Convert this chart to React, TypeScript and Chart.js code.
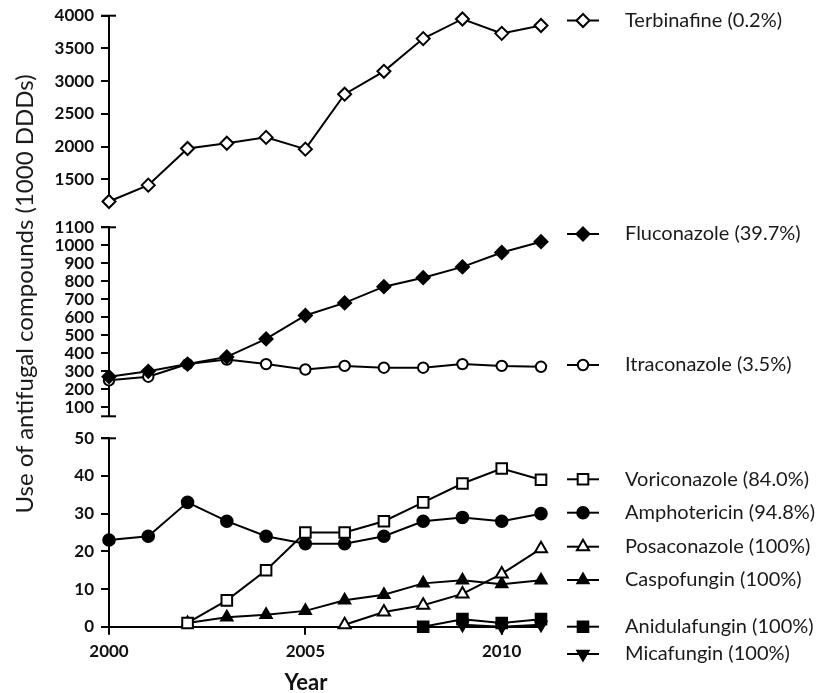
import React, { useEffect, useRef } from 'react';
import { Chart, registerables, PointElement } from 'chart.js';

Chart.register(...registerables);

// ---------- data ----------
const years = [2000, 2001, 2002, 2003, 2004, 2005, 2006, 2007, 2008, 2009, 2010, 2011];
const xTicks = [2000, 2005, 2010];
const topTicks = [1500, 2000, 2500, 3000, 3500, 4000];
const midTicks = [100, 200, 300, 400, 500, 600, 700, 800, 900, 1000, 1100];
const botTicks = [0, 10, 20, 30, 40, 50];

const terbinafine = [1160, 1410, 1970, 2050, 2140, 1960, 2800, 3150, 3650, 3950, 3730, 3850];
const fluconazole = [270, 300, 340, 380, 480, 610, 680, 770, 820, 880, 960, 1020];
const itraconazole = [250, 270, 340, 365, 340, 310, 330, 320, 320, 340, 330, 325];
const voriconazole = [null, null, 1, 7, 15, 25, 25, 28, 33, 38, 42, 39];
const amphotericin = [23, 24, 33, 28, 24, 22, 22, 24, 28, 29, 28, 30];
const posaconazole = [null, null, null, null, null, null, 0.5, 3.9, 5.7, 8.7, 14, 20.7];
const caspofungin = [null, null, 1, 2.5, 3.2, 4.2, 7, 8.5, 11.5, 12.3, 11.3, 12.3];
const anidulafungin = [null, null, null, null, null, null, null, null, 0, 2, 1, 2];
const micafungin = [null, null, null, null, null, null, null, null, null, 0.5, 0, 0.5];

const yTitle = 'Use of antifugal compounds (1000 DDDs)';
const xTitle = 'Year';

// ---------- styles / layout ----------
const FONT = 'Lato, "DejaVu Sans", sans-serif';
const W = 818;
const PLOT_LEFT = 109;
const PLOT_RIGHT = 541;

type Series = {
  label: string;
  data: (number | null)[];
  pointStyle: string;
  filled: boolean;
  radius: number;
  rotation?: number;
  legendY: number; // page px
};

const S_TERB: Series = { label: 'Terbinafine (0.2%)', data: terbinafine, pointStyle: 'rectRot', filled: false, radius: 6.5, legendY: 20.5 };
const S_FLUC: Series = { label: 'Fluconazole (39.7%)', data: fluconazole, pointStyle: 'rectRot', filled: true, radius: 6.5, legendY: 234 };
const S_ITRA: Series = { label: 'Itraconazole (3.5%)', data: itraconazole, pointStyle: 'circle', filled: false, radius: 5.2, legendY: 365 };
const S_VORI: Series = { label: 'Voriconazole (84.0%)', data: voriconazole, pointStyle: 'rect', filled: false, radius: 7.5, legendY: 479.3 };
const S_AMPH: Series = { label: 'Amphotericin (94.8%)', data: amphotericin, pointStyle: 'circle', filled: true, radius: 5.8, legendY: 512.7 };
const S_POSA: Series = { label: 'Posaconazole (100%)', data: posaconazole, pointStyle: 'triangle', filled: false, radius: 7, legendY: 546.7 };
const S_CASP: Series = { label: 'Caspofungin (100%)', data: caspofungin, pointStyle: 'triangle', filled: true, radius: 6.5, legendY: 580 };
const S_ANID: Series = { label: 'Anidulafungin (100%)', data: anidulafungin, pointStyle: 'rect', filled: true, radius: 7.5, legendY: 626.7 };
const S_MICA: Series = { label: 'Micafungin (100%)', data: micafungin, pointStyle: 'triangle', filled: true, radius: 6.5, rotation: 180, legendY: 654 };

type Panel = {
  top: number;
  height: number;
  padTop: number;
  padBottom: number;
  min: number;
  max: number;
  ticks: number[];
  showX: boolean;
  xHeight: number;
  caps: ('top' | 'bottom')[];
  series: Series[];
};

const panels: Panel[] = [
  { top: 0, height: 214, padTop: 15.7, padBottom: 12.5, min: 1160, max: 4000, ticks: topTicks, showX: false, xHeight: 0, caps: ['top'], series: [S_TERB] },
  { top: 214, height: 212, padTop: 13.3, padBottom: 9.7, min: 50, max: 1100, ticks: midTicks, showX: false, xHeight: 0, caps: ['top', 'bottom'], series: [S_FLUC, S_ITRA] },
  { top: 426, height: 267, padTop: 12.3, padBottom: 0, min: 0, max: 50, ticks: botTicks, showX: true, xHeight: 66.3, caps: ['top'], series: [S_VORI, S_AMPH, S_POSA, S_CASP, S_ANID, S_MICA] },
];

const capsPlugin = {
  id: 'axisCaps',
  beforeDatasetsDraw(chart: any, _args: any, opts: any) {
    const y = chart.scales.y;
    const ctx = chart.ctx;
    ctx.save();
    ctx.strokeStyle = '#000';
    ctx.lineWidth = 2;
    (opts.caps || []).forEach((c: string) => {
      const py = c === 'top' ? y.top : y.bottom;
      ctx.beginPath();
      ctx.moveTo(y.right - 8, py);
      ctx.lineTo(y.right + 7, py);
      ctx.stroke();
    });
    ctx.restore();
  },
};

const legendPlugin = {
  id: 'sideLegend',
  afterDraw(chart: any, _args: any, opts: any) {
    const ctx = chart.ctx;
    const items: Series[] = opts.items || [];
    const offset: number = opts.offset || 0;
    ctx.save();
    items.forEach((s) => {
      const y = s.legendY - offset;
      ctx.strokeStyle = '#000';
      ctx.lineWidth = 2;
      ctx.beginPath();
      ctx.moveTo(567, y);
      ctx.lineTo(599, y);
      ctx.stroke();
      const pt: any = new PointElement({ x: 583, y } as any);
      pt.options = {
        pointStyle: s.pointStyle,
        rotation: s.rotation || 0,
        radius: s.radius,
        borderWidth: 2,
        borderColor: '#000',
        backgroundColor: s.filled ? '#000' : '#fff',
      };
      pt.draw(ctx);
      ctx.fillStyle = '#1a1a1a';
      ctx.font = `20px ${FONT}`;
      ctx.textAlign = 'left';
      ctx.textBaseline = 'middle';
      ctx.fillText(s.label, 625, y);
    });
    ctx.restore();
  },
};

function PanelChart({ p }: { p: Panel }) {
  const ref = useRef<HTMLCanvasElement | null>(null);
  useEffect(() => {
    if (!ref.current) return;
    const tickFont = { family: FONT, size: 17, weight: 'bold' as const, lineHeight: 1.2 };
    const chart = new Chart(ref.current, {
      type: 'line',
      data: {
        datasets: p.series.map((s) => ({
          label: s.label,
          data: years
            .map((x, i) => ({ x, y: s.data[i] }))
            .filter((d) => d.y !== null) as any,
          borderColor: '#000',
          borderWidth: 2,
          pointStyle: s.pointStyle as any,
          pointRadius: s.radius,
          pointHoverRadius: s.radius,
          pointBorderWidth: 2,
          pointBorderColor: '#000',
          pointBackgroundColor: s.filled ? '#000' : '#fff',
          pointRotation: s.rotation || 0,
          tension: 0,
          fill: false,
          clip: false as any,
        })),
      },
      options: {
        animation: false,
        responsive: false,
        maintainAspectRatio: false,
        events: [],
        layout: { padding: { left: 0, right: W - PLOT_RIGHT, top: p.padTop, bottom: p.padBottom } },
        plugins: {
          legend: { display: false },
          tooltip: { enabled: false },
          axisCaps: { caps: p.caps },
          sideLegend: { items: p.series, offset: p.top },
        } as any,
        scales: {
          x: {
            type: 'linear',
            min: 2000,
            max: 2011,
            display: p.showX,
            afterBuildTicks: (scale: any) => {
              scale.ticks = xTicks.map((v) => ({ value: v }));
            },
            afterFit: (scale: any) => {
              if (p.showX) scale.height = p.xHeight;
              scale.paddingLeft = 0;
              scale.paddingRight = 0;
            },
            grid: { display: true, drawOnChartArea: false, drawTicks: true, tickLength: 8, color: '#000', lineWidth: 2 },
            border: { display: true, color: '#000', width: 2 },
            ticks: {
              color: '#111',
              font: tickFont,
              padding: 6.8,
              maxRotation: 0,
              autoSkip: false,
              callback: (v: any) => String(v),
            },
          },
          y: {
            type: 'linear',
            min: p.min,
            max: p.max,
            afterBuildTicks: (scale: any) => {
              scale.ticks = p.ticks.map((v) => ({ value: v }));
            },
            afterFit: (scale: any) => {
              scale.width = PLOT_LEFT;
              scale.paddingTop = 0;
              scale.paddingBottom = 0;
            },
            grid: { display: true, drawOnChartArea: false, drawTicks: true, tickLength: 8, color: '#000', lineWidth: 2 },
            border: { display: true, color: '#000', width: 2 },
            ticks: {
              color: '#111',
              font: tickFont,
              padding: 7,
              autoSkip: false,
              callback: (v: any) => String(v),
            },
          },
        },
      },
      plugins: [capsPlugin, legendPlugin],
    });
    return () => chart.destroy();
  }, [p]);
  return (
    <canvas
      ref={ref}
      width={W}
      height={p.height}
      style={{ position: 'absolute', left: 0, top: p.top, width: W, height: p.height, display: 'block' }}
    />
  );
}

export default function App() {
  return (
    <div style={{ position: 'absolute', left: 0, top: 0, width: W, height: 693, background: '#fff', overflow: 'hidden' }}>
      {panels.map((p, i) => (
        <PanelChart key={i} p={p} />
      ))}
      <div
        style={{
          position: 'absolute',
          left: 24 - 300,
          top: 293.5 - 15,
          width: 600,
          height: 30,
          lineHeight: '30px',
          textAlign: 'center',
          transform: 'rotate(-90deg)',
          fontFamily: FONT,
          fontSize: 24,
          color: '#1a1a1a',
          whiteSpace: 'nowrap',
        }}
      >
        {yTitle}
      </div>
      <div
        style={{
          position: 'absolute',
          left: 306 - 100,
          top: 682 - 15,
          width: 200,
          height: 30,
          lineHeight: '30px',
          textAlign: 'center',
          fontFamily: FONT,
          fontSize: 22,
          fontWeight: 'bold',
          color: '#111',
        }}
      >
        {xTitle}
      </div>
    </div>
  );
}
